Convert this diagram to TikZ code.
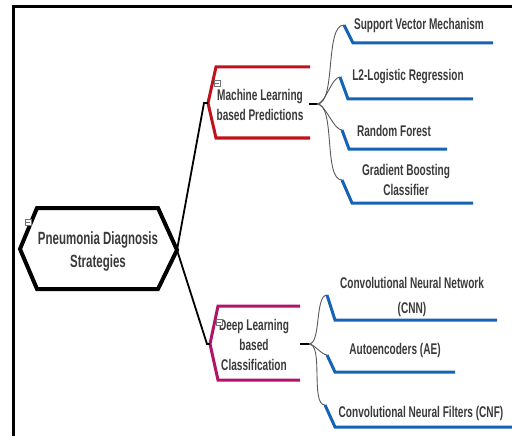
\documentclass[tikz,border=0pt]{standalone}
\usepackage{fontspec}
\setmainfont{Liberation Sans}[FakeStretch=0.65]
\usepackage{xcolor}
\definecolor{mlred}{HTML}{C0121C}
\definecolor{dlpink}{HTML}{AE1468}
\definecolor{leafblue}{HTML}{1563B4}
\definecolor{txtgray}{HTML}{3A3A3A}

\begin{document}
\begin{tikzpicture}[x=1pt,y=-1pt,
    lbl/.style={text=txtgray,font=\fontsize{15.5}{20}\selectfont\bfseries,align=center,inner sep=0pt},
    stem/.style={draw=black,line width=1.8pt},
    twig/.style={draw=black!65,line width=0.9pt},
    leafline/.style={draw=leafblue,line width=3pt},
    minus/.style={draw=black!55,fill=white,line width=0.6pt,inner sep=0pt,minimum size=6pt,
      path picture={\draw[line width=0.8pt] ([xshift=1.2pt]path picture bounding box.west) -- ([xshift=-1.2pt]path picture bounding box.east);}}]
          \useasboundingbox (0,0) rectangle (512,436);
          \draw[line width=3pt] (13,436) -- (13,7) -- (512,7);
          % root
          \draw[line width=4pt] (37,208) -- (158,208) -- (177,250) -- (158,289) -- (37,289) -- (20,249) -- cycle;
          \node[lbl,font=\fontsize{17.7}{23}\selectfont\bfseries] (root) at (98,251) {Pneumonia Diagnosis\\Strategies};
          \node[minus] (rootM) at (28,222) {};
          \coordinate (rootR) at (177,250);
          % first level
          \draw[mlred,line width=3pt] (310,67) -- (216,67) -- (208,103) -- (216,138) -- (310,138);
          \node[lbl] (ml) at (260,105) {Machine Learning\\based Predictions};
          \node[minus] (mlM) at (217,83) {};
          \coordinate (mlL) at (208,103);
          \coordinate (mlR) at (309,104);
          \coordinate (mlB) at (317,104);
          \draw[dlpink,line width=3pt] (300,306) -- (218,306) -- (210,344) -- (218,380) -- (300,380);
          \node[lbl] (dl) at (254,345) {Deep Learning\\based\\Classification};
          \node[minus] (dlM) at (219,322) {};
          \coordinate (dlL) at (210,344);
          \coordinate (dlR) at (300,344);
          \coordinate (dlB) at (309,344);
          \draw[stem] (rootR) -- ([xshift=-4pt]mlL) -- (mlL);
          \draw[stem] (rootR) -- ([xshift=-3pt]dlL) -- (dlL);
          \draw[stem] (mlR) -- (mlB);
          \draw[stem] (dlR) -- (dlB);
          % leaves
          \node[lbl] (svm) at (419,25) {Support Vector Mechanism};
          \node[lbl] (lr) at (408,77) {L2-Logistic Regression};
          \node[lbl] (rf) at (394,131) {Random Forest};
          \node[lbl] (gb) at (406,180) {Gradient Boosting\\Classifier};
          \node[lbl,font=\fontsize{15.5}{25}\selectfont\bfseries] (cnn) at (412,297) {Convolutional Neural Network\\(CNN)};
          \node[lbl] (ae) at (395,350) {Autoencoders (AE)};
          \node[lbl] (cnf) at (421,413) {Convolutional Neural Filters (CNF)};
          \coordinate (svmS) at (344,25);
          \coordinate (lrS) at (340,77);
          \coordinate (rfS) at (342,130);
          \coordinate (gbS) at (342,180);
          \coordinate (cnnS) at (327,295);
          \coordinate (aeS) at (327,355);
          \coordinate (cnfS) at (325,405);
          \draw[leafline] (svmS) -- (353,43) -- (493,43);
          \draw[leafline] (lrS) -- (348,99) -- (473,99);
          \draw[leafline] (rfS) -- (349,149) -- (447,149);
          \draw[leafline] (gbS) -- (352,203) -- (473,203);
          \draw[leafline] (cnnS) -- (335,320) -- (497,320);
          \draw[leafline] (aeS) -- (335,372) -- (455,372);
          \draw[leafline] (cnfS) -- (335,427) -- (512,427);
          \foreach \leaf in {svmS,lrS,rfS,gbS}
            \draw[twig] (mlB) to[out=0,in=180,looseness=0.6] (\leaf);
          \foreach \leaf in {cnnS,aeS,cnfS}
            \draw[twig] (dlB) to[out=0,in=180,looseness=0.6] (\leaf);
        \end{tikzpicture}
\end{document}
